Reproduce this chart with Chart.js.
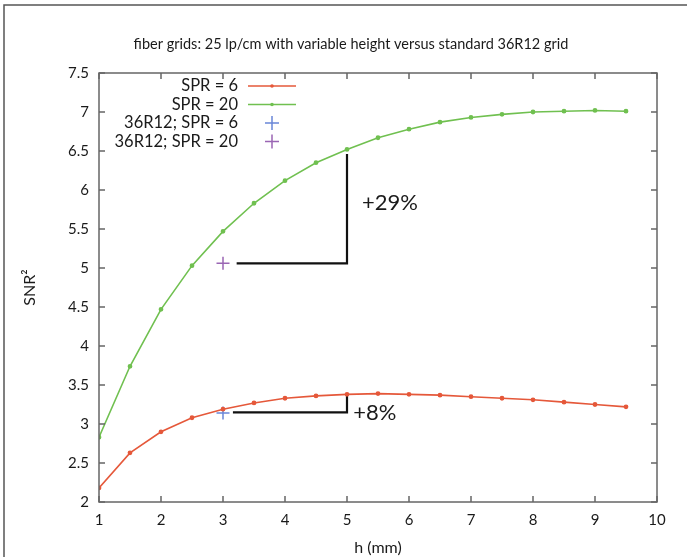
<!DOCTYPE html>
<html>
<head>
<meta charset="utf-8">
<script src="https://cdn.jsdelivr.net/npm/chart.js@4/dist/chart.umd.min.js"></script>
<style>
  html, body { margin: 0; padding: 0; background: #fff; }
  #wrap { width: 687px; height: 558px; position: relative; }
</style>
</head>
<body>
<div id="wrap"><canvas id="snrChart"></canvas></div>
<script>
// data
const hValues = [1, 1.5, 2, 2.5, 3, 3.5, 4, 4.5, 5, 5.5, 6, 6.5, 7, 7.5, 8, 8.5, 9, 9.5];
const snrSpr6 = [2.18, 2.63, 2.90, 3.08, 3.19, 3.27, 3.33, 3.36, 3.38, 3.39, 3.38, 3.37, 3.35, 3.33, 3.31, 3.28, 3.25, 3.22];
const snrSpr20 = [2.83, 3.74, 4.47, 5.03, 5.47, 5.83, 6.12, 6.35, 6.52, 6.67, 6.78, 6.87, 6.93, 6.97, 7.00, 7.01, 7.02, 7.01];
const std36R12Spr6 = [{ x: 3, y: 3.14 }];
const std36R12Spr20 = [{ x: 3, y: 5.06 }];
const bracket29 = [{ x: 3.22, y: 5.06 }, { x: 5, y: 5.06 }, { x: 5, y: 6.46 }];
const bracket8 = [{ x: 3.16, y: 3.15 }, { x: 5, y: 3.15 }, { x: 5, y: 3.39 }];
const notes = [{ text: '+29%', x: 5.24, y: 5.83 }, { text: '+8%', x: 5.1, y: 3.14 }];
const xTicks = [1, 2, 3, 4, 5, 6, 7, 8, 9, 10];
const titleText = 'fiber grids: 25 lp/cm with variable height versus standard 36R12 grid';

const RED = '#e5583a', GREEN = '#70c050', BLUE = '#6a86d8', PURPLE = '#9a66b4';
const FONT = 'Lato, "Open Sans", sans-serif';
const INK = '#1a1a1a';

const toPts = ys => ys.map((y, i) => ({ x: hValues[i], y: y }));

// gnuplot style frame: box round the plot with inward ticks on all sides, plus title, notes and key
const framePlugin = {
  id: 'frame',
  afterDraw(chart) {
    const c = chart.ctx, a = chart.chartArea;
    const xs = chart.scales.x, ys = chart.scales.y;
    c.save();
    // figure border (top and left only)
    c.strokeStyle = '#555';
    c.lineWidth = 1.5;
    c.beginPath();
    c.moveTo(4, 557); c.lineTo(4, 5); c.lineTo(687, 5);
    c.stroke();

    c.fillStyle = INK;
    c.font = '14.5px ' + FONT;
    c.textAlign = 'center';
    c.textBaseline = 'middle';
    c.fillText(titleText, 351, 44);

    c.strokeStyle = '#666';
    c.lineWidth = 1.5;
    c.strokeRect(a.left, a.top, a.right - a.left, a.bottom - a.top);
    const tl = 6;
    c.beginPath();
    xs.ticks.forEach(t => {
      const px = xs.getPixelForValue(t.value);
      c.moveTo(px, a.bottom); c.lineTo(px, a.bottom - tl);
      c.moveTo(px, a.top); c.lineTo(px, a.top + tl);
    });
    ys.ticks.forEach(t => {
      const py = ys.getPixelForValue(t.value);
      c.moveTo(a.left, py); c.lineTo(a.left + tl, py);
      c.moveTo(a.right, py); c.lineTo(a.right - tl, py);
    });
    c.stroke();

    // percentage notes
    c.fillStyle = INK;
    c.font = '22px ' + FONT;
    c.textAlign = 'left';
    notes.forEach(n => c.fillText(n.text, xs.getPixelForValue(n.x), ys.getPixelForValue(n.y)));

    // key: right-aligned labels, sample to the right
    c.font = '16.5px ' + FONT;
    c.textAlign = 'right';
    const kx = a.left + 139, sx = a.left + 173, rowY = [a.top + 13, a.top + 31.5, a.top + 50, a.top + 68.5];
    chart.data.datasets.slice(0, 4).forEach((ds, i) => {
      const y = rowY[i];
      c.fillStyle = INK;
      c.fillText(ds.label, kx, y);
      c.strokeStyle = ds.borderColor;
      c.lineWidth = 1.5;
      c.beginPath();
      if (ds.showLine) {
        c.moveTo(sx - 24, y); c.lineTo(sx + 24, y);
        c.stroke();
        c.fillStyle = ds.borderColor;
        c.beginPath(); c.arc(sx, y, 1.8, 0, Math.PI * 2); c.fill();
      } else {
        c.moveTo(sx - 7, y); c.lineTo(sx + 7, y);
        c.moveTo(sx, y - 7); c.lineTo(sx, y + 7);
        c.stroke();
      }
    });
    c.restore();
  }
};

const ctx = document.getElementById('snrChart').getContext('2d');
const chart = new Chart(ctx, {
  type: 'scatter',
  data: {
    datasets: [
      { label: 'SPR = 6', data: toPts(snrSpr6), showLine: true, borderColor: RED, backgroundColor: RED,
        borderWidth: 1.6, pointRadius: 1.6, tension: 0 },
      { label: 'SPR = 20', data: toPts(snrSpr20), showLine: true, borderColor: GREEN, backgroundColor: GREEN,
        borderWidth: 1.6, pointRadius: 1.6, tension: 0 },
      { label: '36R12; SPR = 6', data: std36R12Spr6, showLine: false, borderColor: BLUE,
        pointStyle: 'cross', pointRadius: 6.5, borderWidth: 1.5 },
      { label: '36R12; SPR = 20', data: std36R12Spr20, showLine: false, borderColor: PURPLE,
        pointStyle: 'cross', pointRadius: 6.5, borderWidth: 1.5 },
      { label: 'bracket 29', data: bracket29, showLine: true, borderColor: '#111', borderWidth: 2.2,
        pointRadius: 0, tension: 0 },
      { label: 'bracket 8', data: bracket8, showLine: true, borderColor: '#111', borderWidth: 2.2,
        pointRadius: 0, tension: 0 }
    ]
  },
  options: {
    responsive: true,
    maintainAspectRatio: false,
    animation: false,
    layout: { padding: { left: 0, right: 30, top: 73, bottom: 0 } },
    plugins: {
      legend: { display: false },
      tooltip: { enabled: false },
      title: { display: false }
    },
    scales: {
      x: {
        type: 'linear', min: 1, max: 10,
        afterFit: s => { s.height = 56; },
        afterBuildTicks: s => { s.ticks = xTicks.map(v => ({ value: v })); },
        grid: { display: false, drawTicks: false },
        border: { display: false },
        ticks: { color: INK, padding: 9, font: { family: FONT, size: 15 } },
        title: { display: true, text: 'h (mm)', color: INK, padding: 1,
          font: { family: FONT, size: 16 } }
      },
      y: {
        min: 2, max: 7.5,
        afterFit: s => { s.width = 99; },
        grid: { display: false, drawTicks: false },
        border: { display: false },
        ticks: { stepSize: 0.5, color: INK, padding: 10, font: { family: FONT, size: 15 },
          callback: v => String(v) },
        title: { display: true, text: 'SNR²', color: INK, padding: 20,
          font: { family: FONT, size: 16 } }
      }
    }
  },
  plugins: [framePlugin]
});
</script>
</body>
</html>
